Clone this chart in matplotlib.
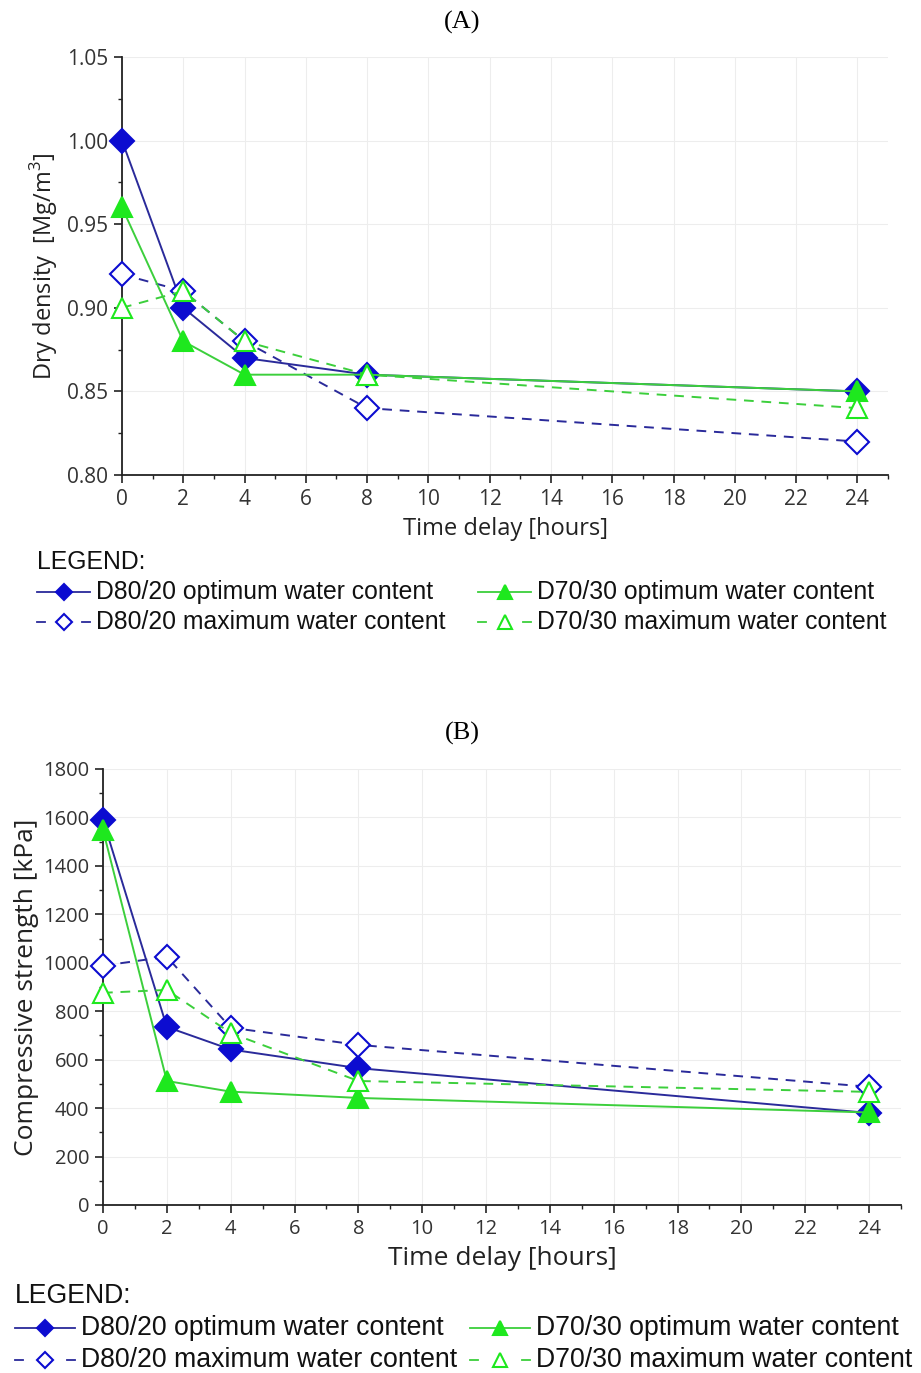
import numpy as np
import matplotlib; matplotlib.use("Agg")
import matplotlib.pyplot as plt
from matplotlib.lines import Line2D
from matplotlib.ticker import MultipleLocator, FormatStrFormatter

plt.rcParams['font.family'] = ['Open Sans', 'DejaVu Sans']
plt.rcParams['mathtext.fontset'] = 'custom'
plt.rcParams['mathtext.rm'] = 'Open Sans'

BLUE = "#0c0cd0"; BLUEL = "#2a2a9a"; GREEN = "#1ee81e"; GREENL = "#3ccf3c"
LEGFONT = ['Liberation Sans Narrow', 'Liberation Sans']

# data
hours = [0, 2, 4, 8, 24]
dens_d80_opt = [1.00, 0.90, 0.87, 0.86, 0.85]
dens_d80_max = [0.92, 0.91, 0.88, 0.84, 0.82]
dens_d70_opt = [0.96, 0.88, 0.86, 0.86, 0.85]
dens_d70_max = [0.90, 0.91, 0.88, 0.86, 0.84]

str_d80_opt = [1590, 735, 642, 565, 380]
str_d80_max = [988, 1025, 732, 661, 488]
str_d70_opt = [1548, 512, 468, 442, 382]
str_d70_max = [876, 888, 710, 512, 467]

labels = ["D80/20 optimum water content", "D80/20 maximum water content",
          "D70/30 optimum water content", "D70/30 maximum water content"]

W, H = 921, 1373
fig = plt.figure(figsize=(W/100, H/100), dpi=100)

def fx(px): return px / W
def fy(py): return 1 - py / H

styles = [
    dict(color=BLUEL, ls='-', marker='D', mfc=BLUE, mec=BLUE, ms=12),
    dict(color=BLUEL, ls=(0, (5, 4)), marker='D', mfc='white', mec=BLUE, ms=12),
    dict(color=GREENL, ls='-', marker='^', mfc=GREEN, mec=GREEN, ms=15),
    dict(color=GREENL, ls=(0, (5, 4)), marker='^', mfc='white', mec=GREEN, ms=15),
]

def panel(rect, series, ylim, ymaj, ymin, yfmt, ylabel, fs, tfs, ypad, xpad):
    ax = fig.add_axes(rect)
    for ys, st in zip(series, styles):
        ax.plot(hours, ys, lw=1.4, mew=1.5, clip_on=False, zorder=3, **st)
    ax.set_xlim(0, 25)
    ax.set_ylim(*ylim)
    ax.xaxis.set_major_locator(MultipleLocator(2))
    ax.xaxis.set_minor_locator(MultipleLocator(1))
    ax.yaxis.set_major_locator(MultipleLocator(ymaj))
    ax.yaxis.set_minor_locator(MultipleLocator(ymin))
    ax.yaxis.set_major_formatter(FormatStrFormatter(yfmt))
    ax.set_xticks([0, 2, 4, 6, 8, 10, 12, 14, 16, 18, 20, 22, 24])
    for s in ['top', 'right']:
        ax.spines[s].set_visible(False)
    for s in ['left', 'bottom']:
        ax.spines[s].set_linewidth(1.3)
        ax.spines[s].set_color('#222222')
    ax.tick_params(which='major', direction='out', length=6, width=1.2, labelsize=tfs,
                   colors='#222222', labelcolor='#333333', pad=4)
    ax.tick_params(which='minor', direction='out', length=3, width=1.0, colors='#222222')
    ax.grid(True, which='major', color='#ededed', lw=0.8)
    ax.set_axisbelow(True)
    ax.set_xlabel("Time delay [hours]", fontsize=fs, color='#222222', labelpad=xpad)
    ax.set_ylabel(ylabel, fontsize=fs, color='#222222', labelpad=ypad)
    return ax

def legend(x0, ytitle, y1, dy, xcol2, fs, keyw):
    fig.text(fx(x0), fy(ytitle), "LEGEND:", fontsize=fs, family=LEGFONT,
             ha='left', va='center', color='#111111')
    cols = [(x0, y1), (x0, y1 + dy), (xcol2, y1), (xcol2, y1 + dy)]
    for (cx, cy), st, lab in zip(cols, styles, labels):
        if st['ls'] == '-':
            fig.add_artist(Line2D([fx(cx), fx(cx + keyw)], [fy(cy)] * 2,
                                  color=st['color'], lw=1.3))
        else:
            for a, b in [(cx, cx + 8), (cx + keyw - 8, cx + keyw)]:
                fig.add_artist(Line2D([fx(a), fx(b)], [fy(cy)] * 2,
                                      color=st['color'], lw=1.3))
        fig.add_artist(Line2D([fx(cx + keyw / 2)], [fy(cy)], ls='none',
                              marker=st['marker'], mfc=st['mfc'], mec=st['mec'],
                              ms=st['ms'] * 0.68, mew=1.5))
        fig.text(fx(cx + keyw + 6), fy(cy), lab, fontsize=fs, family=LEGFONT,
                 ha='left', va='center', color='#111111')

# (A)
fig.text(fx(462), fy(22), "(A)", fontsize=19, family='Liberation Serif', ha='center', va='center')
panel([fx(122), fy(475), fx(888) - fx(122), fy(57) - fy(475)],
      [dens_d80_opt, dens_d80_max, dens_d70_opt, dens_d70_max],
      (0.80, 1.05), 0.05, 0.025, '%.2f', r"Dry density  [Mg/m$^{3}$]", 17, 15, 5, 5)
legend(37, 562, 592, 30, 478, 17.8, 53)

# (B)
fig.text(fx(462), fy(733), "(B)", fontsize=19, family='Liberation Serif', ha='center', va='center')
panel([fx(103), fy(1205), fx(901) - fx(103), fy(769) - fy(1205)],
      [str_d80_opt, str_d80_max, str_d70_opt, str_d70_max],
      (0, 1800), 200, 100, '%d', "Compressive strength [kPa]", 19, 14.5, 3, 5)
legend(15, 1296, 1328, 32, 470, 19.2, 60)

fig.savefig("out.png", dpi=100)
